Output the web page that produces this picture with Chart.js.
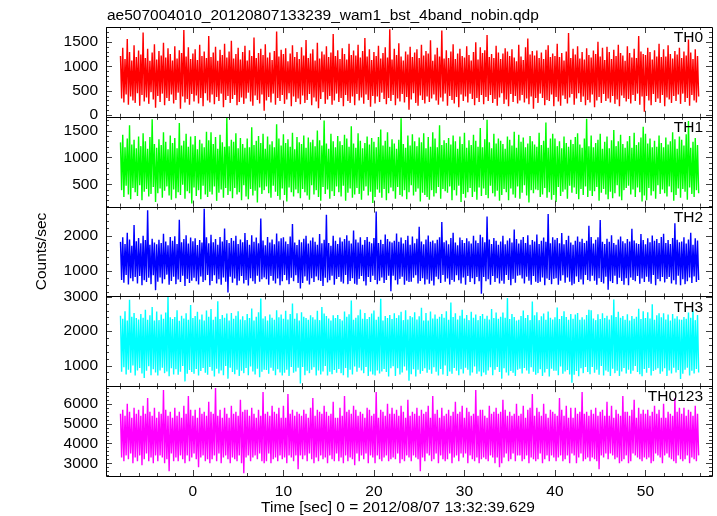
<!DOCTYPE html>
<html>
<head>
<meta charset="utf-8">
<title>ae507004010 wam1 bst 4band</title>
<script src="https://cdn.jsdelivr.net/npm/chart.js@4.4.1/dist/chart.umd.min.js"></script>
<style>
  html, body { margin: 0; padding: 0; background: #fff; }
  canvas { display: block; }
</style>
</head>
<body>
<canvas id="lc" width="717" height="516"></canvas>
<script>
// time bins, sec from 2012/08/07 13:32:39.629
const T_START = -8;
const T_STEP = 0.125;

// counts/sec per band
const TH0 = [
  1210,340,1380,260,1150,420,1560,210,1290,380,1120,300,1430,250,1190,450,
  1320,190,1240,410,1690,280,1170,360,1360,230,1110,470,1280,320,1450,150,
  1140,390,1310,270,1220,440,1480,200,1180,350,1370,290,1250,420,1120,240,
  1410,310,1160,460,1330,130,1270,380,1740,260,1200,330,1390,210,1150,430,
  1260,280,1350,400,1130,240,1440,350,1210,180,1300,450,1170,300,1620,260,
  1190,420,1280,220,1400,370,1110,290,1340,440,1230,160,1460,310,1180,390,
  1300,250,1520,330,1160,410,1250,200,1380,270,1140,360,1290,230,1420,340,
  1120,460,1330,280,1210,190,1590,400,1170,310,1270,240,1360,420,1230,90,
  1450,300,1180,370,1280,260,1130,440,1310,210,1710,350,1200,290,1340,410,
  1250,230,1370,320,1100,450,1260,180,1430,380,1190,270,1290,340,1150,220,
  1390,400,1220,250,1540,310,1170,430,1260,200,1350,360,1120,280,1480,140,
  1160,330,1300,470,1240,230,1410,320,1190,390,1280,210,1660,300,1210,440,
  1330,270,1150,350,1370,180,1250,410,1140,290,1460,250,1230,380,1320,200,
  1220,430,1440,300,1180,360,1310,230,1580,420,1200,310,1350,170,1130,390,
  1290,240,1210,380,1420,270,1160,460,1270,330,1390,220,1180,350,1760,290,
  1140,410,1360,200,1230,340,1470,280,1200,430,1120,260,1300,370,1240,110,
  1400,320,1190,450,1280,250,1350,190,1170,400,1440,310,1220,240,1310,380,
  1260,270,1530,340,1110,420,1240,300,1380,210,1200,360,1730,280,1160,440,
  1330,190,1170,390,1300,310,1450,240,1150,370,1260,160,1360,420,1210,290,
  1180,380,1410,260,1230,440,1120,330,1290,200,1490,350,1140,270,1390,410,
  1270,220,1330,370,1640,290,1190,410,1250,250,1170,330,1420,190,1280,360,
  1150,450,1260,230,1370,320,1300,180,1210,430,1350,270,1180,390,1100,240,
  1440,300,1200,410,1130,260,1390,340,1570,220,1240,380,1310,130,1220,350,
  1320,250,1170,440,1280,350,1150,200,1340,310,1430,290,1190,420,1260,180,
  1210,370,1460,280,1190,190,1270,400,1120,330,1300,240,1680,360,1170,430,
  1360,210,1240,340,1410,450,1160,270,1290,380,1140,200,1370,310,1230,260,
  1180,420,1320,160,1250,300,1500,370,1200,250,1380,430,1130,290,1400,340,
  1290,260,1150,390,1340,230,1210,320,1440,180,1270,400,1220,350,1110,280,
  1410,330,1270,240,1180,410,1360,290,1170,440,1620,210,1300,380,1250,70,
  1230,390,1380,300,1290,200,1140,430,1330,270,1200,340,1460,250,1190,410,
  1350,180,1200,360,1430,320,1250,250,1160,390,1310,290,1240,420,1380,230,
  1170,440,1300,270,1220,350,1550,190,1280,410,1150,300,1350,260,1210,380
];
const TH1 = [
  1280,390,1420,260,1190,470,1350,310,1600,220,1240,430,1330,350,1170,280,
  1390,480,1210,200,1450,360,1300,410,1160,270,1380,320,1710,450,1250,170,
  1180,330,1340,420,1230,250,1470,380,1290,460,1150,290,1410,210,1270,400,
  1360,240,1170,350,1640,300,1220,490,1310,230,1440,370,1200,330,1390,140,
  1240,440,1400,280,1150,390,1330,220,1260,470,1190,310,1480,260,1320,360,
  1470,310,1250,460,1380,190,1160,340,1420,400,1280,250,1200,430,1740,300,
  1210,370,1330,240,1290,430,1450,310,1170,350,1360,200,1250,480,1180,270,
  1350,220,1190,410,1560,290,1230,380,1310,160,1400,440,1270,320,1440,390,
  1160,460,1390,330,1240,250,1300,470,1190,360,1620,280,1350,210,1220,420,
  1430,300,1270,180,1340,440,1200,350,1460,270,1150,400,1380,330,1280,240,
  1250,410,1410,350,1180,290,1370,210,1280,480,1330,310,1210,390,1500,260,
  1320,190,1220,450,1690,320,1260,400,1160,230,1440,370,1300,280,1190,460,
  1400,350,1300,270,1230,470,1420,190,1350,340,1200,420,1580,250,1260,310,
  1180,430,1450,320,1310,210,1170,380,1270,460,1390,290,1240,360,1360,150,
  1290,260,1190,400,1380,340,1520,250,1220,410,1310,200,1470,330,1200,440,
  1340,370,1260,230,1160,450,1330,300,1730,270,1250,390,1180,220,1410,350,
  1220,480,1430,290,1300,360,1210,420,1370,180,1280,340,1450,300,1170,260,
  1380,210,1200,390,1470,270,1350,330,1190,450,1600,230,1230,410,1320,370,
  1270,340,1360,460,1240,200,1410,390,1300,290,1160,470,1390,170,1250,320,
  1460,250,1180,350,1320,430,1230,260,1420,360,1310,210,1200,440,1550,280,
  1190,420,1340,300,1700,240,1280,470,1170,330,1440,270,1260,380,1350,190,
  1310,300,1250,410,1160,350,1390,200,1330,420,1220,310,1480,250,1180,460,
  1420,230,1290,340,1370,480,1190,290,1260,160,1400,390,1300,330,1240,400,
  1200,390,1460,260,1230,310,1310,430,1650,250,1180,350,1350,210,1440,300,
  1350,170,1210,450,1300,280,1170,360,1390,400,1270,230,1200,470,1330,340,
  1250,440,1380,320,1450,220,1240,410,1180,300,1350,460,1720,260,1210,380,
  1410,280,1190,370,1270,450,1330,190,1440,340,1160,410,1290,310,1390,220,
  1170,360,1320,240,1510,330,1210,480,1300,270,1420,200,1250,390,1180,430,
  1300,470,1400,310,1180,400,1460,260,1230,440,1280,350,1370,180,1570,290,
  1440,200,1260,430,1350,290,1190,370,1310,230,1200,480,1410,320,1270,400,
  1190,330,1370,270,1240,460,1300,350,1470,190,1340,300,1160,420,1390,250,
  1330,410,1220,360,1430,210,1680,440,1180,320,1290,260,1360,390,1230,330
];
const TH2 = [
  1820,740,1950,660,1760,880,2080,610,1890,790,1710,700,2300,820,1840,640,
  1930,850,1780,590,1990,730,1870,680,2720,800,1740,620,1910,870,1800,450,
  1750,690,1880,810,1790,640,2050,760,1830,890,1720,600,1960,710,1850,830,
  1980,620,1760,750,2450,680,1810,860,1900,570,2010,770,1770,650,1940,720,
  1840,800,1920,700,1730,610,1870,840,1800,680,2760,730,1950,880,1780,590,
  2020,710,1810,870,1900,640,1740,760,1960,600,1830,810,2200,690,1870,380,
  1790,830,1930,660,1850,780,1990,590,1760,720,1890,850,1810,640,2070,740,
  1870,580,1740,790,2010,700,1820,630,1940,860,1780,690,2480,760,1860,810,
  1720,760,1960,600,1800,850,1890,720,1750,640,2060,780,1840,590,1920,700,
  1950,880,1830,730,1760,620,1970,800,2330,700,1800,870,1730,650,1880,500,
  1810,650,1910,840,1990,720,1770,610,1860,790,1940,680,1820,840,1740,730,
  2040,710,1780,570,1880,800,2590,670,1790,730,1710,860,1990,600,1850,770,
  1760,820,1940,690,1830,640,1900,880,2010,620,1850,710,1770,790,2140,630,
  1890,600,1800,770,1950,850,1740,700,1870,580,1960,820,1820,680,1780,860,
  1930,740,2680,620,1790,720,1880,810,1760,650,2030,740,1900,860,1830,420,
  1800,860,1850,730,2060,610,1820,770,1940,830,1770,600,1870,720,1990,680,
  1740,690,1970,800,1780,870,1910,640,2250,710,1830,790,1750,610,1890,750,
  2000,630,1820,720,1860,580,1780,830,1880,760,1950,650,2380,880,1810,690,
  1860,780,1750,610,1930,740,2080,690,1800,870,1720,730,1940,640,1870,810,
  1790,600,1920,850,1840,680,1770,790,1990,620,1860,820,1790,700,2020,350,
  1950,820,1810,700,2540,760,1890,600,1760,850,1930,680,1850,790,1740,640,
  1830,720,1990,630,1750,880,1860,740,1920,590,1800,770,2170,660,1900,860,
  1770,870,1880,780,1960,640,1790,830,2010,720,1740,600,1870,850,1830,690,
  2030,650,1760,690,1850,810,1940,590,1820,780,2610,740,1780,620,1950,770,
  1880,790,1930,600,1780,720,2070,870,1750,660,1870,810,1990,690,1800,590,
  1740,630,1850,840,1970,680,1820,750,1910,610,1790,880,1850,740,2280,700,
  1960,860,1770,720,1880,600,1950,790,2440,680,1820,640,1760,830,1910,460,
  1820,700,2010,650,1790,860,1740,620,1890,800,1970,710,1840,600,1780,790,
  1900,590,1830,810,2190,740,1860,700,1780,850,1760,630,2040,780,1870,680,
  1750,830,1920,690,1810,630,2000,880,1850,590,1900,770,1790,700,1960,820,
  2050,670,1790,770,1870,820,1760,640,1930,730,2350,610,1880,860,1810,590,
  1830,760,1950,620,1770,700,1890,810,2080,650,1740,840,1920,680,1860,740
];
const TH3 = [
  2450,820,2360,950,2580,740,2310,880,2910,790,2420,1000,2530,710,2380,860,
  2340,930,2500,770,2390,640,2620,850,2330,980,2460,720,2700,890,2310,800,
  2570,710,2320,860,2480,940,2360,780,2540,830,2990,690,2400,920,2350,740,
  2410,890,2610,730,2300,820,2450,990,2370,540,2520,760,2330,870,2760,810,
  2380,760,2440,900,2560,710,2340,840,2480,930,2310,790,2600,730,2420,960,
  2640,850,2330,680,2420,910,2870,770,2350,860,2470,720,2390,990,2510,620,
  2310,940,2530,810,2360,750,2450,880,2580,700,2340,850,2430,780,2320,930,
  2500,720,2380,970,2660,830,2310,740,2420,910,2550,660,2950,820,2370,880,
  2430,870,2310,760,2480,940,2390,850,2330,720,2610,890,2400,800,2480,710,
  2360,790,2590,880,2340,700,2500,960,2800,790,2360,830,2520,940,2310,480,
  2550,960,2420,720,2380,850,2330,780,2460,880,2400,950,2340,710,2590,860,
  2320,740,2700,830,2510,990,2440,710,2370,820,2310,750,2460,870,2380,790,
  2470,900,2350,780,2310,720,2570,930,2420,650,2490,880,2890,740,2330,970,
  2390,820,2460,940,2630,860,2360,780,2530,960,2350,700,2410,830,2510,740,
  2600,710,2330,860,2420,770,2940,830,2310,900,2440,810,2380,680,2470,920,
  2350,980,2520,700,2380,920,2460,740,2560,800,2320,970,2610,860,2340,560,
  2440,750,2400,890,2550,680,2340,880,2430,760,2680,840,2310,920,2530,790,
  2310,880,2570,760,2370,950,2480,820,2360,710,2420,900,2500,740,2390,1000,
  2580,700,2330,830,2830,760,2410,930,2520,850,2340,720,2450,890,2620,770,
  2370,940,2470,880,2320,710,2560,800,2390,970,2480,760,2320,830,2440,690,
  2500,800,2360,730,2450,860,2340,950,2640,720,2380,880,2540,960,2360,810,
  2420,620,2540,920,2390,800,2960,710,2350,840,2500,790,2410,700,2310,880,
  2330,910,2440,770,2600,930,2380,860,2470,760,2320,950,2860,820,2460,730,
  2550,780,2320,890,2430,700,2510,800,2330,900,2570,680,2390,910,2340,850,
  2400,850,2690,720,2350,970,2440,760,2580,830,2410,870,2330,740,2500,500,
  2360,730,2480,840,2530,690,2330,920,2400,780,2340,960,2470,810,2620,750,
  2610,960,2370,790,2320,880,2490,730,2350,990,2520,710,2380,860,2450,820,
  2340,700,2460,910,2920,780,2410,850,2560,700,2390,830,2440,930,2330,770,
  2490,880,2310,760,2440,850,2360,990,2420,810,2650,750,2350,690,2580,900,
  2380,790,2550,930,2370,710,2780,840,2330,880,2460,920,2520,760,2400,830,
  2520,920,2340,700,2480,860,2310,770,2500,940,2370,800,2430,870,2340,610,
  2330,760,2410,880,2360,940,2540,710,2390,850,2590,770,2320,900,2470,800
];
const TH0123 = [
  5500,3300,5700,3100,5400,3400,6000,3200,5600,3500,5300,3000,5800,3300,5500,3100,
  5700,3400,5400,2900,5900,3200,5500,3500,6300,3100,5600,3300,5400,3000,5800,3400,
  5300,3100,5600,3400,5500,3300,6700,3000,5700,3200,5400,2600,5600,3500,5300,3100,
  5800,3300,5400,3100,5600,3400,5300,3200,5900,3000,5500,3400,6400,3100,5700,3300,
  5400,3500,5700,3200,5300,2800,5800,3300,5500,3400,5600,3100,5400,3200,6100,3000,
  5600,3200,5500,3400,6800,3100,5400,3500,5700,3000,5300,3300,5800,3400,5500,3200,
  5300,3000,5900,3300,5500,3200,5600,3100,5400,3400,6200,3000,5600,2500,5700,3300,
  5700,3400,5400,3100,5800,3300,5500,3400,5300,3200,5700,3500,5400,3100,6600,3000,
  5500,3100,5600,3500,5400,3000,5900,3200,5600,3300,5500,3100,5800,3400,5300,3200,
  5900,3300,5300,3000,6500,3400,5500,3300,5700,3100,5400,3400,5600,2700,5500,3400,
  5400,3200,5700,3400,5500,3100,5300,3500,5800,3200,6300,3000,5400,3300,5700,3100,
  5600,3400,5500,3200,5900,3300,5600,3000,5400,3400,5500,3200,6100,3100,5300,3500,
  5300,3100,5800,3300,5400,3000,6400,3400,5600,3100,5700,3300,5500,3200,5900,2900,
  5700,3500,5400,3100,5600,3400,5500,3200,5300,3500,5800,3000,5700,3400,5400,3300,
  5500,3000,6600,3400,5300,3200,5700,3100,5600,3300,5400,3400,6000,3100,5500,3200,
  5800,3300,5500,3200,5700,3500,5400,3000,5900,3200,5600,3100,5300,3400,6200,3300,
  5400,3100,5600,3400,5500,3300,5800,3200,5400,2600,5700,3300,5500,3100,5600,3500,
  5900,3400,5300,3100,6400,3200,5500,3500,5700,3000,5300,3400,5800,3200,5400,3100,
  5500,3200,5700,3500,5400,3000,5600,3300,6100,3400,5500,3100,5600,3500,5900,3300,
  5300,3500,5800,3000,5600,3400,5400,3200,5500,3100,6700,3300,5400,3000,5700,3200,
  5700,3300,5400,3200,5300,3100,5900,3400,5500,3300,5600,3000,5800,3300,5500,2800,
  5600,3000,6200,3300,5700,3500,5400,3100,5600,3200,5400,3500,5500,3100,6000,3400,
  5400,3400,5500,3100,5900,3200,5300,3400,5700,3000,5800,3300,6500,3200,5400,3100,
  5800,3200,5600,3500,5400,3000,6000,3200,5500,3400,5300,3100,5700,3400,5600,3300,
  5500,3100,5400,3300,6300,3400,5700,3100,5400,3200,5900,3400,5300,3000,5800,3500,
  5300,3400,5800,3000,5500,3300,5600,3500,6600,3100,5500,3200,5600,3300,5400,3100,
  5700,3300,5500,3200,5800,3100,5400,2700,5600,3400,5700,3300,5400,3500,6100,3200,
  5400,3500,5900,3400,5300,3200,5700,3300,5500,3000,5400,3100,6400,3200,5600,3400,
  5600,3000,5400,3100,5700,3500,6200,3400,5300,3300,5800,3200,5500,3100,5700,3300,
  5500,3200,5700,3300,5400,3000,5600,3100,5900,3500,5500,3400,5700,3300,5300,3000,
  6000,3400,5300,3500,5600,3300,5500,3200,5400,3100,6300,3000,5600,3400,5800,3200,
  5500,3100,5800,3200,5400,3400,5700,3000,5600,3300,5400,3200,5900,3100,5500,3400
];

const panelNames = ['TH0', 'TH1', 'TH2', 'TH3', 'TH0123'];
const panelMin = [-35, 83, 272, 400, 2360];
const panelMax = [1804, 1757, 2821, 3010, 6890];
const yTicks = [[0, 500, 1000, 1500], [500, 1000, 1500], [1000, 2000], [1000, 2000, 3000], [3000, 4000, 5000, 6000]];
const yMajor = [500, 500, 1000, 1000, 1000];
const xTicks = [0, 10, 20, 30, 40, 50];

const colors = ['#ff0000', '#00ff00', '#0000ff', '#00ffff', '#ff00ff'];
const FONT = '15.5px "Liberation Sans", Arial, Helvetica, sans-serif';

const series = [TH0, TH1, TH2, TH3, TH0123];

Chart.defaults.font.family = '"Liberation Sans", Arial, Helvetica, sans-serif';
Chart.defaults.font.size = 15.5;
Chart.defaults.color = '#000';

const scales = {
    x: {
        type: 'linear',
        position: 'bottom',
        min: -9.6,
        max: 57.35,
        grid: { display: false, drawTicks: false },
        border: { display: false },
        ticks: { padding: 6, maxRotation: 0, autoSkip: false, callback: v => String(v) },
        afterBuildTicks: s => { s.ticks = xTicks.map(v => ({ value: v })); },
        afterFit: s => { s.height = 40; }
    }
};
panelNames.forEach((name, p) => {
    scales['y' + p] = {
        type: 'linear',
        position: 'left',
        stack: 'panels',
        stackWeight: 1,
        weight: 5 - p, // top panel first
        min: panelMin[p],
        max: panelMax[p],
        grid: { display: false, drawTicks: false },
        border: { display: false },
        ticks: { padding: 8, autoSkip: false, callback: v => String(v) },
        afterBuildTicks: s => { s.ticks = yTicks[p].map(v => ({ value: v })); },
        afterFit: s => { s.width = 106; }
    };
});

// frames, inside ticks, panel names and the texts round the plot
const qdpFrame = {
    id: 'qdpFrame',
    afterDatasetsDraw(chart) {
        const ctx = chart.ctx;
        const a = chart.chartArea;
        const xs = chart.scales.x;
        const px = v => Math.round(v) + 0.5;
        ctx.save();
        ctx.lineWidth = 1;
        ctx.strokeStyle = '#404040';
        ctx.beginPath();
        panelNames.forEach((name, p) => {
            const ys = chart.scales['y' + p];
            for (let t = -8; t <= 56; t += 2) {
                const x = px(xs.getPixelForValue(t));
                const len = t % 10 === 0 ? 6 : 3;
                ctx.moveTo(x, ys.top); ctx.lineTo(x, ys.top + len);
                ctx.moveTo(x, ys.bottom); ctx.lineTo(x, ys.bottom - len);
            }
            const minor = yMajor[p] / 5;
            for (let v = Math.ceil(panelMin[p] / minor) * minor; v <= panelMax[p]; v += minor) {
                const y = px(ys.getPixelForValue(v));
                const len = v % yMajor[p] === 0 ? 6 : 3;
                ctx.moveTo(a.left, y); ctx.lineTo(a.left + len, y);
                ctx.moveTo(a.right, y); ctx.lineTo(a.right - len, y);
            }
        });
        ctx.stroke();

        ctx.strokeStyle = '#000';
        ctx.beginPath();
        ctx.rect(px(a.left), px(a.top), Math.round(a.right) - Math.round(a.left), Math.round(a.bottom) - Math.round(a.top));
        for (let p = 0; p < panelNames.length - 1; p++) {
            const y = px(chart.scales['y' + p].bottom);
            ctx.moveTo(a.left, y); ctx.lineTo(a.right, y);
        }
        ctx.stroke();

        ctx.fillStyle = '#000';
        ctx.font = FONT;
        ctx.textAlign = 'right';
        ctx.textBaseline = 'middle';
        panelNames.forEach((name, p) => {
            ctx.fillText(name, a.right - 9, chart.scales['y' + p].top + 11);
        });
        ctx.restore();
    },
    afterDraw(chart) {
        const ctx = chart.ctx;
        const a = chart.chartArea;
        ctx.save();
        ctx.fillStyle = '#000';
        ctx.font = FONT;
        ctx.textBaseline = 'alphabetic';
        ctx.textAlign = 'left';
        ctx.fillText('ae507004010_20120807133239_wam1_bst_4band_nobin.qdp', 107, 19.5);
        ctx.textAlign = 'center';
        ctx.fillText('Time [sec] 0 = 2012/08/07 13:32:39.629', 398, 511.5);
        ctx.translate(46, (a.top + a.bottom) / 2);
        ctx.rotate(-Math.PI / 2);
        ctx.fillText('Counts/sec', 0, 0);
        ctx.restore();
    }
};

new Chart(document.getElementById('lc'), {
    type: 'line',
    data: {
        datasets: series.map((vals, p) => ({
            label: panelNames[p],
            data: vals.map((v, i) => ({ x: T_START + i * T_STEP, y: v })),
            yAxisID: 'y' + p,
            borderColor: colors[p],
            borderWidth: 1.4,
            pointRadius: 0,
            tension: 0,
            fill: false
        }))
    },
    options: {
        responsive: false,
        animation: false,
        devicePixelRatio: 1,
        layout: { padding: { top: 27, right: 5, bottom: 0, left: 0 } },
        plugins: { legend: { display: false }, tooltip: { enabled: false } },
        scales
    },
    plugins: [qdpFrame]
});
</script>
</body>
</html>
